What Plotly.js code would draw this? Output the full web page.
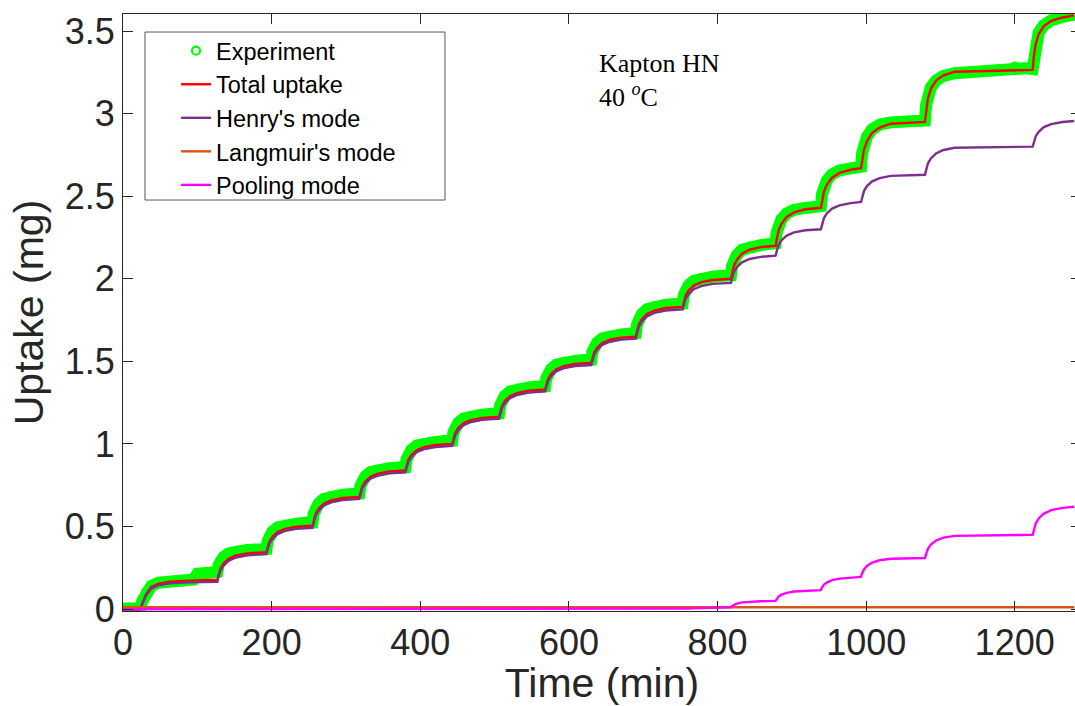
<!DOCTYPE html>
<html>
<head>
<meta charset="utf-8">
<script src="https://cdn.plot.ly/plotly-3.0.1.min.js"></script>
<style>
html, body { margin: 0; padding: 0; overflow: hidden; background: #ffffff; }
#chart { width: 1081px; height: 706px; }
</style>
</head>
<body>
<div id="chart"></div>
<script>
// ---------------- Data ----------------
const seriesNames = ["Experiment", "Total uptake", "Henry's mode", "Langmuir's mode", "Pooling mode"];

// Model time grid (min)
const modelTime = [0,
  23, 26, 31, 38, 48, 63, 88,
  127, 128.5, 131, 135, 142, 152, 167,
  193, 194.5, 197, 201, 208, 218, 233,
  255, 256.5, 259, 263, 270, 280, 295,
  318, 319.5, 322, 326, 333, 343, 358,
  380, 381.5, 384, 388, 395, 405, 420,
  443, 444.5, 447, 451, 458, 468, 483,
  506, 507.5, 510, 514, 521, 531, 546,
  568, 569.5, 572, 576, 583, 593, 608,
  630, 631.5, 634, 638, 645, 655, 670,
  690, 691.5, 694, 698, 705, 715, 730,
  753, 754.5, 757, 761, 768, 778, 793,
  818, 819.5, 822, 826, 833, 843, 858,
  878, 879.5, 882, 886, 893, 903, 918,
  939, 940.5, 943, 947, 954, 964, 979,
  993, 994.5, 997, 1001, 1008, 1018, 1033,
  1079, 1080.5, 1083, 1087, 1094, 1104, 1119,
  1224, 1225.5, 1228, 1232, 1239, 1249, 1264,
  1280];

const totalUptake = [0,
  0, 0.035, 0.090, 0.135, 0.155, 0.166, 0.173,
  0.178, 0.211, 0.245, 0.275, 0.305, 0.325, 0.338,
  0.345, 0.377, 0.409, 0.438, 0.467, 0.486, 0.499,
  0.505, 0.540, 0.575, 0.607, 0.638, 0.659, 0.673,
  0.680, 0.712, 0.744, 0.773, 0.802, 0.821, 0.834,
  0.840, 0.872, 0.904, 0.933, 0.962, 0.981, 0.994,
  1.000, 1.033, 1.066, 1.096, 1.125, 1.145, 1.158,
  1.165, 1.198, 1.231, 1.261, 1.290, 1.310, 1.323,
  1.330, 1.362, 1.394, 1.423, 1.452, 1.471, 1.484,
  1.490, 1.522, 1.554, 1.583, 1.612, 1.631, 1.644,
  1.650, 1.686, 1.722, 1.754, 1.787, 1.808, 1.823,
  1.830, 1.864, 1.898, 1.929, 1.959, 1.980, 1.993,
  2.000, 2.040, 2.080, 2.116, 2.152, 2.176, 2.192,
  2.200, 2.246, 2.292, 2.333, 2.375, 2.402, 2.421,
  2.430, 2.478, 2.526, 2.569, 2.612, 2.641, 2.660,
  2.670, 2.726, 2.782, 2.832, 2.883, 2.916, 2.939,
  2.950, 3.020, 3.090, 3.150, 3.200, 3.232, 3.253,
  3.265, 3.345, 3.420, 3.480, 3.530, 3.562, 3.582,
  3.595];

const henryMode = [0,
  0, 0.030, 0.083, 0.125, 0.145, 0.156, 0.162,
  0.165, 0.199, 0.232, 0.262, 0.293, 0.313, 0.326,
  0.333, 0.365, 0.397, 0.426, 0.455, 0.474, 0.487,
  0.493, 0.528, 0.563, 0.595, 0.626, 0.647, 0.661,
  0.668, 0.700, 0.732, 0.761, 0.790, 0.809, 0.822,
  0.828, 0.860, 0.892, 0.921, 0.950, 0.969, 0.982,
  0.988, 1.021, 1.054, 1.084, 1.113, 1.133, 1.146,
  1.153, 1.186, 1.219, 1.249, 1.278, 1.298, 1.311,
  1.318, 1.350, 1.382, 1.411, 1.440, 1.459, 1.472,
  1.478, 1.510, 1.542, 1.571, 1.600, 1.619, 1.632,
  1.638, 1.673, 1.709, 1.741, 1.773, 1.794, 1.808,
  1.815, 1.847, 1.879, 1.908, 1.937, 1.956, 1.969,
  1.975, 2.008, 2.041, 2.071, 2.100, 2.120, 2.133,
  2.140, 2.172, 2.204, 2.233, 2.262, 2.281, 2.294,
  2.300, 2.333, 2.366, 2.396, 2.425, 2.445, 2.458,
  2.465, 2.498, 2.531, 2.561, 2.590, 2.610, 2.623,
  2.630, 2.664, 2.698, 2.729, 2.759, 2.780, 2.793,
  2.800, 2.831, 2.862, 2.890, 2.918, 2.936, 2.949,
  2.955];

const poolingMode = [0,
  0, 0, 0, 0, 0, 0, 0,
  0, 0, 0, 0, 0, 0, 0,
  0, 0, 0, 0, 0, 0, 0,
  0, 0, 0, 0, 0, 0, 0,
  0, 0, 0, 0, 0, 0, 0,
  0, 0, 0, 0, 0, 0, 0,
  0, 0, 0, 0, 0, 0, 0,
  0, 0, 0, 0, 0, 0, 0,
  0, 0, 0, 0, 0, 0, 0,
  0, 0, 0, 0, 0, 0, 0,
  0, 0, 0, 0, 0, 0, 0.001,
  0.003, 0.003, 0.004, 0.004, 0.005, 0.007, 0.009,
  0.012, 0.020, 0.027, 0.034, 0.041, 0.045, 0.048,
  0.050, 0.063, 0.076, 0.088, 0.099, 0.107, 0.112,
  0.115, 0.131, 0.147, 0.161, 0.176, 0.185, 0.192,
  0.195, 0.218, 0.241, 0.262, 0.282, 0.296, 0.305,
  0.310, 0.338, 0.366, 0.391, 0.416, 0.433, 0.444,
  0.450, 0.484, 0.518, 0.549, 0.579, 0.600, 0.613,
  0.620];

const langmuirTime = [0, 1280];
const langmuirMode = [0.012, 0.012];

// Experimental points
const expTime = [0, 8, 16, 23, 26, 31, 38, 48, 63, 88, 95, 100, 115,
  127, 128.5, 131, 135, 142, 152, 167, 180,
  193, 194.5, 197, 201, 208, 218, 233, 245,
  255, 256.5, 259, 263, 270, 280, 295, 308,
  318, 319.5, 322, 326, 333, 343, 358, 370,
  380, 381.5, 384, 388, 395, 405, 420, 433,
  443, 444.5, 447, 451, 458, 468, 483, 496,
  506, 507.5, 510, 514, 521, 531, 546, 558,
  568, 569.5, 572, 576, 583, 593, 608, 620,
  630, 631.5, 634, 638, 645, 655, 670, 680,
  690, 691.5, 694, 698, 705, 715, 730, 743,
  753, 754.5, 757, 761, 768, 778, 793, 808,
  818, 819.5, 822, 826, 833, 843, 858, 868,
  878, 879.5, 882, 886, 893, 903, 918, 929,
  939, 940.5, 943, 947, 954, 964, 979, 985,
  993, 994.5, 997, 1001, 1008, 1018, 1033, 1060, 1075,
  1079, 1080.5, 1083, 1087, 1094, 1104, 1119, 1150, 1180, 1200, 1215,
  1224, 1225.5, 1228, 1232, 1239, 1249, 1264, 1280];

const expUptake = [0.004, 0.003, 0.004, 0.004, 0.050, 0.105, 0.140, 0.160, 0.170, 0.178, 0.180, 0.215, 0.222,
  0.225, 0.266, 0.294, 0.315, 0.337, 0.351, 0.358, 0.362,
  0.365, 0.412, 0.444, 0.469, 0.495, 0.510, 0.518, 0.523,
  0.525, 0.577, 0.612, 0.639, 0.667, 0.684, 0.693, 0.698,
  0.700, 0.747, 0.779, 0.804, 0.830, 0.845, 0.853, 0.858,
  0.860, 0.907, 0.939, 0.964, 0.990, 1.005, 1.013, 1.018,
  1.020, 1.069, 1.102, 1.128, 1.154, 1.170, 1.178, 1.183,
  1.185, 1.234, 1.267, 1.293, 1.319, 1.335, 1.343, 1.348,
  1.350, 1.397, 1.429, 1.454, 1.480, 1.495, 1.503, 1.508,
  1.510, 1.557, 1.589, 1.614, 1.640, 1.655, 1.663, 1.668,
  1.670, 1.723, 1.759, 1.787, 1.816, 1.834, 1.843, 1.848,
  1.850, 1.900, 1.934, 1.961, 1.988, 2.005, 2.013, 2.018,
  2.020, 2.077, 2.115, 2.145, 2.176, 2.195, 2.204, 2.210,
  2.215, 2.281, 2.326, 2.361, 2.396, 2.418, 2.429, 2.436,
  2.440, 2.511, 2.558, 2.595, 2.633, 2.656, 2.668, 2.675,
  2.678, 2.761, 2.817, 2.861, 2.905, 2.933, 2.947, 2.952, 2.955,
  2.958, 3.050, 3.110, 3.160, 3.200, 3.228, 3.245, 3.257, 3.265, 3.285, 3.275,
  3.270, 3.350, 3.430, 3.490, 3.535, 3.565, 3.585, 3.600];

const xTickVals = [0, 200, 400, 600, 800, 1000, 1200];
const yTickVals = [0, 0.5, 1, 1.5, 2, 2.5, 3, 3.5];
const annotationText = "Kapton HN<br>40 <sup><i>o</i></sup>C";

// ---------------- Styling ----------------
const FONT = "Liberation Sans, Arial, Helvetica, sans-serif";
const AX = "#262626";

const traces = [
  { x: expTime, y: expUptake, type: "scatter", mode: "lines",
    line: { color: "#00ff00", width: 12 }, showlegend: false, hoverinfo: "skip" },
  { x: expTime, y: expUptake, type: "scatter", mode: "markers", name: seriesNames[0],
    marker: { symbol: "circle-open", size: 8, color: "#00ff00", line: { color: "#00ff00", width: 2.2 } } },
  { x: modelTime, y: totalUptake, type: "scatter", mode: "lines", name: seriesNames[1],
    line: { color: "#ff0000", width: 2.4 } },
  { x: modelTime, y: henryMode, type: "scatter", mode: "lines", name: seriesNames[2],
    line: { color: "#7e2f8e", width: 2.4 } },
  { x: langmuirTime, y: langmuirMode, type: "scatter", mode: "lines", name: seriesNames[3],
    line: { color: "#d95319", width: 2.4 } },
  { x: modelTime, y: poolingMode, type: "scatter", mode: "lines", name: seriesNames[4],
    line: { color: "#ff00ff", width: 2.4 } }
];

const axisCommon = {
  showgrid: false, zeroline: false,
  showline: true, linecolor: AX, linewidth: 1, mirror: "ticks",
  ticks: "inside", ticklen: 10, tickwidth: 1, tickcolor: AX,
  tickfont: { family: FONT, size: 36, color: AX },
  automargin: false
};

const layout = {
  width: 1081, height: 706,
  margin: { l: 123, r: 0, t: 14, b: 95 },
  paper_bgcolor: "#ffffff", plot_bgcolor: "#ffffff",
  font: { family: FONT, color: AX },
  xaxis: Object.assign({}, axisCommon, {
    range: [0, 1289], tickmode: "array", tickvals: xTickVals,
    title: { text: "Time (min)", font: { family: FONT, size: 41, color: AX }, standoff: 2 }
  }),
  yaxis: Object.assign({}, axisCommon, {
    range: [-0.011, 3.603], tickmode: "array", tickvals: yTickVals,
    title: { text: "Uptake (mg)", font: { family: FONT, size: 41, color: AX }, standoff: 8 }
  }),
  showlegend: true,
  legend: {
    x: 0.023, y: 0.975, xanchor: "left", yanchor: "top",
    bgcolor: "rgba(0,0,0,0)", borderwidth: 0,
    font: { family: FONT, size: 23.5, color: "#000000" },
    indentation: 31, tracegroupgap: 0
  },
  shapes: [{
    type: "rect", xref: "paper", yref: "paper",
    x0: 0.02296, x1: 0.3361, y0: 0.6884, y1: 0.9698,
    line: { color: "#555555", width: 1 }, fillcolor: "#ffffff", layer: "below"
  }],
  annotations: [{
    xref: "paper", yref: "paper", x: 0.4948, y: 0.945, xanchor: "left", yanchor: "top",
    align: "left", showarrow: false, text: annotationText,
    font: { family: "Liberation Serif, Times New Roman, serif", size: 26, color: "#000000" }
  }]
};

Plotly.newPlot("chart", traces, layout, { displayModeBar: false, staticPlot: true });
</script>
</body>
</html>
